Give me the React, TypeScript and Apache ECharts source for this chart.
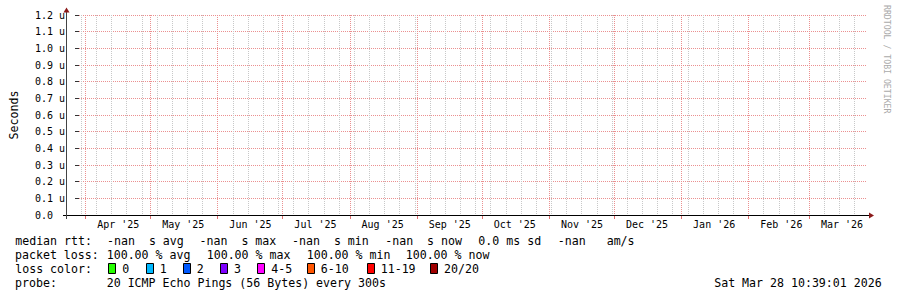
import React, { useEffect, useRef } from 'react';
import * as echarts from 'echarts';

// ---------- data ----------
const X_START = Date.UTC(2025, 2, 29, 3, 16);
const X_END = Date.UTC(2026, 2, 27, 18, 38);
const FIRST_WEEK_LINE = Date.UTC(2025, 2, 30);

const monthStarts: [number, number][] = [
  [2025, 3], [2025, 4], [2025, 5], [2025, 6], [2025, 7], [2025, 8],
  [2025, 9], [2025, 10], [2025, 11], [2026, 0], [2026, 1], [2026, 2],
];
const monthLabels = [
  "Apr '25", "May '25", "Jun '25", "Jul '25", "Aug '25", "Sep '25",
  "Oct '25", "Nov '25", "Dec '25", "Jan '26", "Feb '26", "Mar '26",
];

const Y_MIN = 0;
const Y_MAX = 1.2;
const Y_STEP = 0.1;
const Y_UNIT = 'u';
const Y_NAME = 'Seconds';

const medianRttValues = ['-nan', '-nan', '-nan', '-nan'];
const medianRttKinds = ['avg', 'max', 'min', 'now'];
const rttSdValue = '0.0';
const amPerSValue = '-nan';
const packetLossValues = [100, 100, 100, 100];
const packetLossKinds = ['avg', 'max', 'min', 'now'];
const lossLabels = ['0', '1', '2', '3', '4-5', '6-10', '11-19', '20/20'];
const lossColors = ['#26ff00', '#00b8ff', '#0059ff', '#7e00ff', '#ff00ff', '#ff5500', '#ff0000', '#a00000'];
const probeText = '20 ICMP Echo Pings (56 Bytes) every 300s';
const timestampText = 'Sat Mar 28 10:39:01 2026';
const creditText = 'RRDTOOL / TOBI OETIKER';

// ---------- layout ----------
const W = 897;
const H = 297;
const MONO = "'DejaVu Sans Mono', monospace";
const LEG_FONT = `11.6px ${MONO}`;
const AX_FONT = `10px ${MONO}`;
const MAJOR_GRID = '#eb9090';
const MINOR_GRID = '#c8c8c8';
const rowY = [241, 255, 269, 283.3];
const row1X = [107, 199.5, 292, 385.2, 478.3, 557.8];
const row2X = [106.7, 206.7, 306.7, 405.7];
const boxX = [108.3, 145.7, 182.7, 220, 257.3, 306.7, 366.7, 430];
const DAY = 86400000;

function txt(text: string, x: number, y: number, opts: any = {}) {
  return {
    type: 'text',
    x,
    y,
    z: 100,
    silent: true,
    style: {
      text,
      font: opts.font || LEG_FONT,
      fill: opts.fill || '#000',
      align: opts.align || 'left',
      textAlign: opts.align || 'left',
      verticalAlign: 'middle',
      textVerticalAlign: 'middle',
    },
    rotation: opts.rotation || 0,
  };
}

export default function App() {
  const ref = useRef<HTMLDivElement>(null);
  useEffect(() => {
    if (!ref.current) return;
    const chart = echarts.init(ref.current, undefined, { renderer: 'svg' });

    const weekLines: number[][] = [];
    for (let t = FIRST_WEEK_LINE; t < X_END; t += 7 * DAY) weekLines.push([t, 0]);
    const monthData = monthStarts.map(([y, m], i) => {
      const s = Date.UTC(y, m, 1);
      return [s, 0, s + 15.25 * DAY, i];
    });

    const graphic: any[] = [];
    // axes
    graphic.push({ type: 'line', z: 100, silent: true, shape: { x1: 63, y1: 215.5, x2: 870, y2: 215.5 }, style: { stroke: '#000', lineWidth: 1 } });
    graphic.push({ type: 'line', z: 100, silent: true, shape: { x1: 66.5, y1: 219, x2: 66.5, y2: 12 }, style: { stroke: '#444', lineWidth: 1 } });
    graphic.push({ type: 'polygon', z: 101, silent: true, shape: { points: [[63.5, 12.5], [69.5, 12.5], [66.5, 7.5]] }, style: { fill: '#8b1a1a' } });
    graphic.push({ type: 'polygon', z: 101, silent: true, shape: { points: [[869, 212.5], [869, 218.5], [874, 215.5]] }, style: { fill: '#8b1a1a' } });

    // credit
    graphic.push(txt(creditText, 886.5, 5, { font: `8.2px ${MONO}`, fill: '#aaaaaa', rotation: -Math.PI / 2 }));

    // legend row 1
    graphic.push(txt('median rtt:', 15.2, rowY[0]));
    medianRttValues.forEach((v, i) => {
      graphic.push(txt(`${v}  s ${medianRttKinds[i]}`, row1X[i], rowY[0]));
    });
    graphic.push(txt(`${rttSdValue} ms sd`, row1X[4], rowY[0]));
    graphic.push(txt(`${amPerSValue}   am/s`, row1X[5], rowY[0]));

    // legend row 2
    graphic.push(txt('packet loss:', 15, rowY[1]));
    packetLossValues.forEach((v, i) => {
      graphic.push(txt(`${v.toFixed(2)} % ${packetLossKinds[i]}`, row2X[i], rowY[1]));
    });

    // legend row 3
    graphic.push(txt('loss color:', 15.2, rowY[2]));
    lossLabels.forEach((l, i) => {
      const bx = Math.round(boxX[i]) + 0.5;
      graphic.push({
        type: 'rect', z: 100, silent: true,
        shape: { x: bx, y: 263.5, width: 7, height: 10 },
        style: { fill: lossColors[i], stroke: '#000', lineWidth: 1 },
      });
      graphic.push(txt(l, boxX[i] + 14, rowY[2]));
    });

    // legend row 4
    graphic.push(txt('probe:', 15, rowY[3]));
    graphic.push(txt(probeText, 106.7, rowY[3]));
    graphic.push(txt(timestampText, 881.7, rowY[3], { align: 'right' }));

    const option: any = {
      animation: false,
      backgroundColor: '#ffffff',
      grid: { left: 67, top: 15, width: 800, height: 200, containLabel: false },
      xAxis: {
        type: 'value',
        min: X_START,
        max: X_END,
        axisLine: { show: false },
        axisTick: { show: false },
        axisLabel: { show: false },
        splitLine: { show: false },
      },
      yAxis: {
        type: 'value',
        min: Y_MIN,
        max: Y_MAX,
        interval: Y_STEP,
        name: Y_NAME,
        nameLocation: 'middle',
        nameGap: 59,
        nameRotate: 90,
        nameTextStyle: { fontFamily: MONO, fontSize: 11.6, color: '#000' },
        axisLine: { show: false },
        axisTick: { show: true, length: 4, lineStyle: { color: '#333', width: 1 } },
        axisLabel: {
          align: 'left',
          margin: 44,
          fontFamily: MONO,
          fontSize: 10,
          color: '#000',
          formatter: (v: number) => (Math.abs(v) < 1e-9 ? '0.0' : `${v.toFixed(1)} ${Y_UNIT}`),
        },
        splitLine: { show: true, lineStyle: { color: MAJOR_GRID, width: 1, type: [1, 1] } },
      },
      series: [
        {
          type: 'custom',
          coordinateSystem: 'cartesian2d',
          silent: true,
          clip: false,
          z: 1,
          encode: { x: 0, y: 1 },
          data: weekLines,
          renderItem: (_p: any, api: any) => {
            const b = api.coord([api.value(0), Y_MIN]);
            const t = api.coord([api.value(0), Y_MAX]);
            const x = Math.round(b[0]) + 0.5;
            return {
              type: 'line',
              shape: { x1: x, y1: t[1], x2: x, y2: b[1] },
              style: { stroke: MINOR_GRID, lineWidth: 1, lineDash: [1, 1] },
            };
          },
        },
        {
          type: 'custom',
          coordinateSystem: 'cartesian2d',
          silent: true,
          clip: false,
          z: 2,
          encode: { x: 0, y: 1 },
          data: monthData,
          renderItem: (_p: any, api: any) => {
            const b = api.coord([api.value(0), Y_MIN]);
            const t = api.coord([api.value(0), Y_MAX]);
            const m = api.coord([api.value(2), Y_MIN]);
            const x = Math.round(b[0]) + 0.5;
            const idx = api.value(3);
            return {
              type: 'group',
              children: [
                {
                  type: 'line',
                  shape: { x1: x, y1: t[1], x2: x, y2: b[1] },
                  style: { stroke: MAJOR_GRID, lineWidth: 1, lineDash: [1, 1] },
                },
                {
                  type: 'line',
                  shape: { x1: x, y1: b[1], x2: x, y2: b[1] + 4 },
                  style: { stroke: '#e07070', lineWidth: 1 },
                },
                {
                  type: 'text',
                  x: m[0],
                  y: b[1] + 9.5,
                  style: {
                    text: monthLabels[idx],
                    font: AX_FONT,
                    fill: '#000',
                    align: 'center',
                    textAlign: 'center',
                    verticalAlign: 'middle',
                    textVerticalAlign: 'middle',
                  },
                },
              ],
            };
          },
        },
      ],
      graphic,
    };
    chart.setOption(option);
    return () => chart.dispose();
  }, []);
  return (
    <div
      ref={ref}
      style={{ position: 'fixed', left: 0, top: 0, width: W, height: H, background: '#fff' }}
    />
  );
}
